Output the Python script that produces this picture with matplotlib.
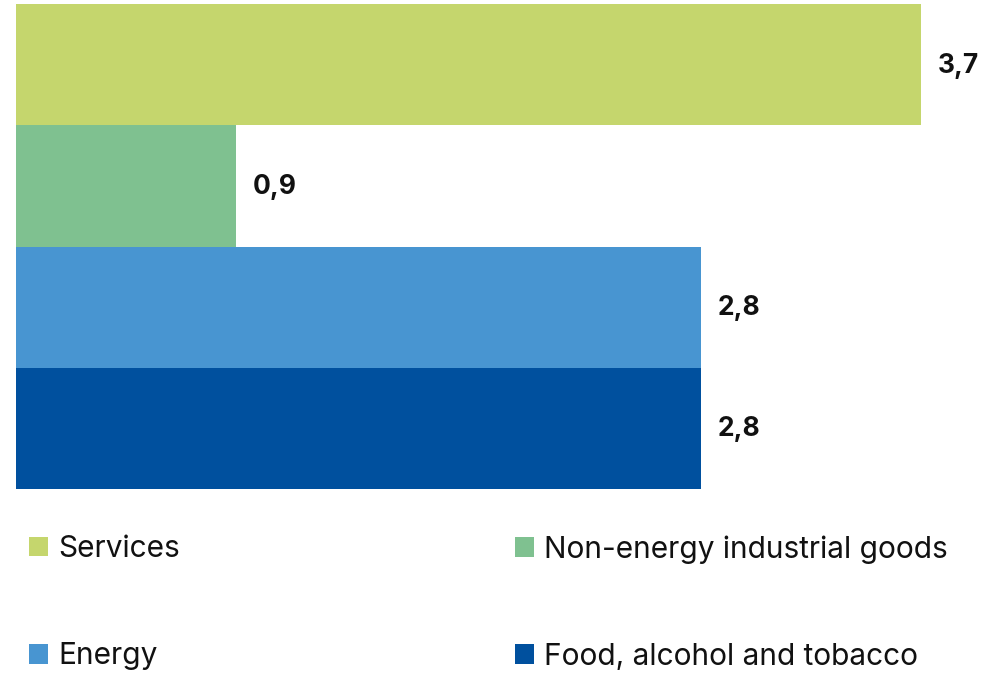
import matplotlib.pyplot as plt
from matplotlib.patches import Patch

# data
categories = ['Services', 'Non-energy industrial goods', 'Energy', 'Food, alcohol and tobacco']
values = [3.7, 0.9, 2.8, 2.8]
labels = ['3,7', '0,9', '2,8', '2,8']
colors = ['#c5d66d', '#7fc190', '#4895d1', '#00509e']

plt.rcParams['font.family'] = ['Inter', 'DejaVu Sans']

W, H = 1005, 673
fig = plt.figure(figsize=(W / 100, H / 100), dpi=100)

# axes placed in pixel terms: bars from x=16, y from 4 to 489
left, right = 16, W
top, bottom = 4, 489
ax = fig.add_axes([left / W, 1 - bottom / H, (right - left) / W, (bottom - top) / H])

y = list(range(len(categories)))
ax.barh(y, values, height=1.0, color=colors, edgecolor='none')
ax.set_ylim(len(categories) - 0.5, -0.5)
ax.set_xlim(0, 3.7 * (right - left) / (921 - left))
ax.axis('off')

for yi, v, lab in zip(y, values, labels):
    ax.annotate(lab, (v, yi), xytext=(17, -1), textcoords='offset pixels',
                ha='left', va='center', fontsize=19, fontweight='bold', color='#111111')

handles = [Patch(facecolor=c, edgecolor='none') for c in colors]

leg_kw = dict(frameon=False, fontsize=21.5, handlelength=0.64, handleheight=0.64,
              handletextpad=0.33, labelspacing=2.65, borderpad=0, borderaxespad=0,
              loc='upper left')
leg1 = fig.legend([handles[0], handles[2]], [categories[0], categories[2]],
                  bbox_to_anchor=(29 / W, 1 - 535 / H), **leg_kw)
leg2 = fig.legend([handles[1], handles[3]], [categories[1], categories[3]],
                  bbox_to_anchor=(515 / W, 1 - 535 / H), **leg_kw)
for leg in (leg1, leg2):
    for t in leg.get_texts():
        t.set_color('#111111')

fig.savefig('out.png', dpi=100)
